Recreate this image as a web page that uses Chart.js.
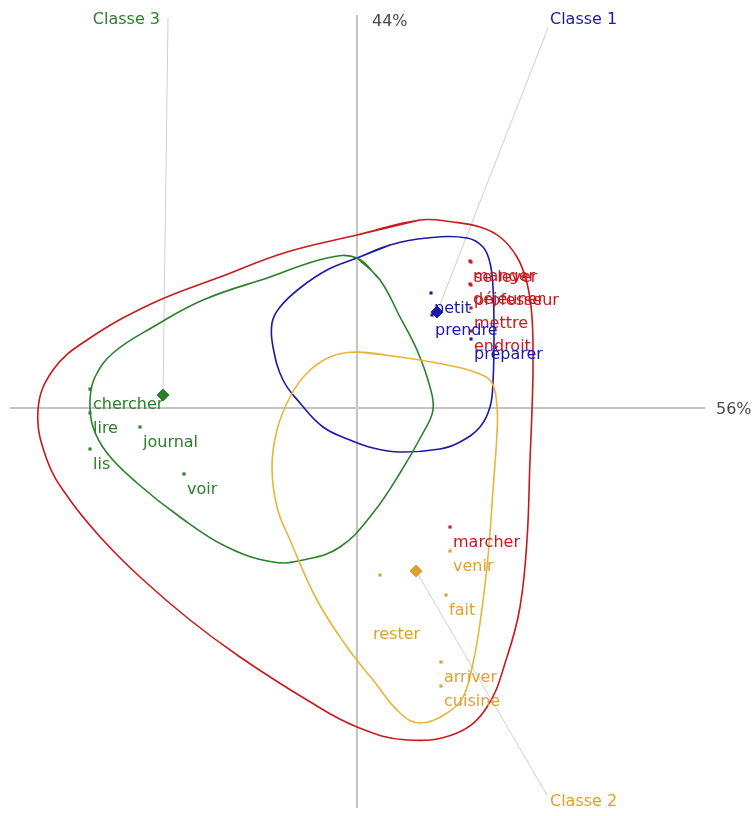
<!DOCTYPE html>
<html>
<head>
<meta charset="utf-8">
<title>Classes</title>
<script src="https://cdn.jsdelivr.net/npm/chart.js@4/dist/chart.umd.min.js"></script>
<style>
    html, body { margin: 0; padding: 0; background: #fff; }
    #chart-canvas { display: block; }
</style>
</head>
<body>
<canvas id="chart-canvas" width="753" height="816"></canvas>
<script>
// --- DATA (factor coordinates, axis 1 horizontal, axis 2 vertical) ---
const axisInertia = ['56%', '44%'];

const classNames = ['Classe 1', 'Classe 2', 'Classe 3'];
const classX = [0.80, 0.59, -1.94];
const classY = [0.96, -1.63, 0.13];

const wordsRed = ['manger', 'se lever', 'déjeuner', 'professeur', 'mettre', 'endroit', 'marcher'];
const wordsRedX = [1.13, 1.14, 1.13, 1.14, 1.14, 1.14, 0.93];
const wordsRedY = [1.47, 1.46, 1.24, 1.23, 1.00, 0.77, -1.19];

const wordsBlue = ['petit', 'prendre', 'préparer'];
const wordsBlueX = [0.74, 0.75, 1.14];
const wordsBlueY = [1.15, 0.93, 0.69];

const wordsGreen = ['chercher', 'lire', 'journal', 'lis', 'voir'];
const wordsGreenX = [-2.67, -2.67, -2.17, -2.67, -1.73];
const wordsGreenY = [0.19, -0.05, -0.19, -0.41, -0.66];

const wordsOrange = ['venir', 'fait', 'rester', 'arriver', 'cuisine'];
const wordsOrangeX = [0.93, 0.89, 0.23, 0.84, 0.84];
const wordsOrangeY = [-1.43, -1.87, -1.67, -2.54, -2.78];

// envelopes around the words (closed curves)
const envelopeAll = [[0, 1.73], [0.63, 1.88], [0.96, 1.86], [1.23, 1.81], [1.43, 1.71], [1.60, 1.51],
    [1.70, 1.25], [1.75, 0.91], [1.76, 0.41], [1.75, -0.02], [1.73, -0.52], [1.70, -1.32], [1.63, -1.99],
    [1.50, -2.49], [1.30, -2.99], [1.00, -3.25], [0.50, -3.32], [0, -3.19], [-0.50, -2.92], [-1.17, -2.49],
    [-1.67, -2.12], [-2.17, -1.69], [-2.54, -1.32], [-2.87, -0.92], [-3.10, -0.52], [-3.19, -0.02],
    [-3.04, 0.38], [-2.70, 0.68], [-2.04, 1.05], [-1.37, 1.31], [-0.70, 1.56]];
const envelope1 = [[0, 1.50], [0.33, 1.63], [0.70, 1.70], [1.10, 1.70], [1.26, 1.61], [1.33, 1.45],
    [1.36, 1.21], [1.37, 0.75], [1.36, 0.26], [1.33, 0.01], [1.23, -0.19], [1.03, -0.34], [0.83, -0.41],
    [0.43, -0.44], [0.16, -0.40], [-0.07, -0.32], [-0.34, -0.19], [-0.57, 0.05], [-0.74, 0.28],
    [-0.84, 0.61], [-0.85, 0.85], [-0.77, 1.01], [-0.57, 1.20], [-0.30, 1.38]];
const envelope2 = [[0, 0.56], [0.43, 0.51], [0.90, 0.43], [1.20, 0.35], [1.35, 0.25], [1.40, 0.01],
    [1.40, -0.25], [1.36, -0.82], [1.31, -1.49], [1.23, -2.15], [1.16, -2.55], [1.06, -2.89], [0.90, -3.05],
    [0.63, -3.15], [0.43, -3.05], [0.16, -2.72], [-0.10, -2.39], [-0.40, -1.92], [-0.67, -1.32],
    [-0.80, -0.99], [-0.85, -0.59], [-0.80, -0.22], [-0.67, 0.11], [-0.50, 0.35], [-0.27, 0.51]];
const envelope3 = [[0, 1.50], [0.23, 1.28], [0.43, 0.91], [0.60, 0.58], [0.73, 0.21], [0.76, -0.02],
    [0.66, -0.25], [0.43, -0.65], [0.16, -1.05], [-0.17, -1.39], [-0.54, -1.52], [-0.84, -1.54],
    [-1.30, -1.39], [-1.77, -1.09], [-2.20, -0.75], [-2.50, -0.45], [-2.64, -0.19], [-2.67, 0.08],
    [-2.62, 0.31], [-2.44, 0.55], [-2.04, 0.81], [-1.54, 1.08], [-0.87, 1.31], [-0.30, 1.50]];

// --- STYLE ---
const RED = '#c8191e';
const BLUE = '#1a1aa6';
const GREEN = '#2a7f2a';
const ORANGE = '#e0a02c';
const ORANGE_LINE = '#e8b43c';
const GREY = '#c4c4c4';
const FONT = '16px "DejaVu Sans", Verdana, sans-serif';
const classColors = [BLUE, ORANGE, GREEN];
// where each class caption sits (data units) and how the text is aligned
const classAnchors = [
    { x: 1.91, y: 3.80, tx: 1.93, ty: 3.88, align: 'left' },
    { x: 1.90, y: -3.87, tx: 1.93, ty: -3.94, align: 'left' },
    { x: -1.89, y: 3.90, tx: -1.97, ty: 3.88, align: 'right' }
];
// labels that were pushed away from their point to avoid overlaps
const labelShift = { rester: { dx: -10, dy: 44 } };

// --- HELPERS ---
function closedLoop(pairs) {
    const pts = pairs.map(p => ({ x: p[0], y: p[1] }));
    return pts.concat([pts[0], pts[1]]);
}

function zipPoints(xs, ys) {
    return xs.map((x, i) => ({ x: x, y: ys[i] }));
}

function envelopeDataset(pairs, color) {
    return {
        data: closedLoop(pairs),
        showLine: true,
        borderColor: color,
        borderWidth: 1.6,
        tension: 0.4,
        pointRadius: 0,
        fill: false
    };
}

function dotDataset(xs, ys, color) {
    return {
        data: zipPoints(xs, ys),
        showLine: false,
        pointStyle: 'rect',
        pointRadius: 2.2,
        pointBackgroundColor: color,
        pointBorderWidth: 0
    };
}

// --- PLUGIN: axes, leader lines and all the text ---
const mapPlugin = {
    id: 'mapPlugin',
    beforeDatasetsDraw(chart) {
        const ctx = chart.ctx;
        const xs = chart.scales.x, ys = chart.scales.y;
        const x0 = xs.getPixelForValue(0), y0 = ys.getPixelForValue(0);
        ctx.save();
        ctx.strokeStyle = GREY;
        ctx.lineWidth = 2;
        ctx.beginPath();
        ctx.moveTo(xs.getPixelForValue(-3.47), y0);
        ctx.lineTo(xs.getPixelForValue(3.48), y0);
        ctx.moveTo(x0, ys.getPixelForValue(3.93));
        ctx.lineTo(x0, ys.getPixelForValue(-4.0));
        ctx.stroke();

        ctx.lineWidth = 1;
        ctx.strokeStyle = '#cfcfcf';
        classNames.forEach((name, i) => {
            const a = classAnchors[i];
            ctx.beginPath();
            ctx.moveTo(xs.getPixelForValue(classX[i]), ys.getPixelForValue(classY[i]));
            ctx.lineTo(xs.getPixelForValue(a.x), ys.getPixelForValue(a.y));
            ctx.stroke();
        });
        ctx.restore();
    },
    afterDatasetsDraw(chart) {
        const ctx = chart.ctx;
        const xs = chart.scales.x, ys = chart.scales.y;
        ctx.save();
        ctx.font = FONT;
        ctx.textBaseline = 'middle';

        // inertia of each axis
        ctx.fillStyle = '#4a4a4a';
        ctx.textAlign = 'left';
        ctx.fillText(axisInertia[0], xs.getPixelForValue(3.59), ys.getPixelForValue(-0.02));
        ctx.fillText(axisInertia[1], xs.getPixelForValue(0.15), ys.getPixelForValue(3.86));

        function drawWords(words, wx, wy, color) {
            ctx.fillStyle = color;
            ctx.textAlign = 'left';
            words.forEach((w, i) => {
                const s = labelShift[w] || { dx: 0, dy: 0 };
                const px = xs.getPixelForValue(wx[i]) + 3 + s.dx;
                const py = ys.getPixelForValue(wy[i]) + 16 + s.dy;
                ctx.fillText(w, px, py);
            });
        }
        drawWords(wordsRed, wordsRedX, wordsRedY, RED);
        drawWords(wordsGreen, wordsGreenX, wordsGreenY, GREEN);
        drawWords(wordsOrange, wordsOrangeX, wordsOrangeY, ORANGE);
        drawWords(wordsBlue, wordsBlueX, wordsBlueY, BLUE);

        classNames.forEach((name, i) => {
            const a = classAnchors[i];
            ctx.fillStyle = classColors[i];
            ctx.textAlign = a.align;
            ctx.fillText(name, xs.getPixelForValue(a.tx), ys.getPixelForValue(a.ty));
        });
        ctx.restore();
    }
};

// --- CHART ---
const ctx = document.getElementById('chart-canvas').getContext('2d');
new Chart(ctx, {
    type: 'scatter',
    data: {
        datasets: [
            envelopeDataset(envelopeAll, RED),
            envelopeDataset(envelope2, ORANGE_LINE),
            envelopeDataset(envelope3, GREEN),
            envelopeDataset(envelope1, BLUE),
            dotDataset(wordsRedX, wordsRedY, RED),
            dotDataset(wordsGreenX, wordsGreenY, GREEN),
            dotDataset(wordsOrangeX, wordsOrangeY, ORANGE),
            dotDataset(wordsBlueX, wordsBlueY, BLUE),
            {
                data: zipPoints(classX, classY),
                showLine: false,
                pointStyle: 'rectRot',
                pointRadius: 6,
                pointBackgroundColor: classColors,
                pointBorderColor: classColors,
                pointBorderWidth: 1
            }
        ]
    },
    options: {
        responsive: false,
        animation: false,
        devicePixelRatio: 1,
        layout: { padding: 0, autoPadding: false },
        plugins: { legend: { display: false }, tooltip: { enabled: false } },
        scales: {
            x: { type: 'linear', min: -3.57, max: 3.96, display: false },
            y: { type: 'linear', min: -4.08, max: 4.08, display: false }
        }
    },
    plugins: [mapPlugin]
});
</script>
</body>
</html>
